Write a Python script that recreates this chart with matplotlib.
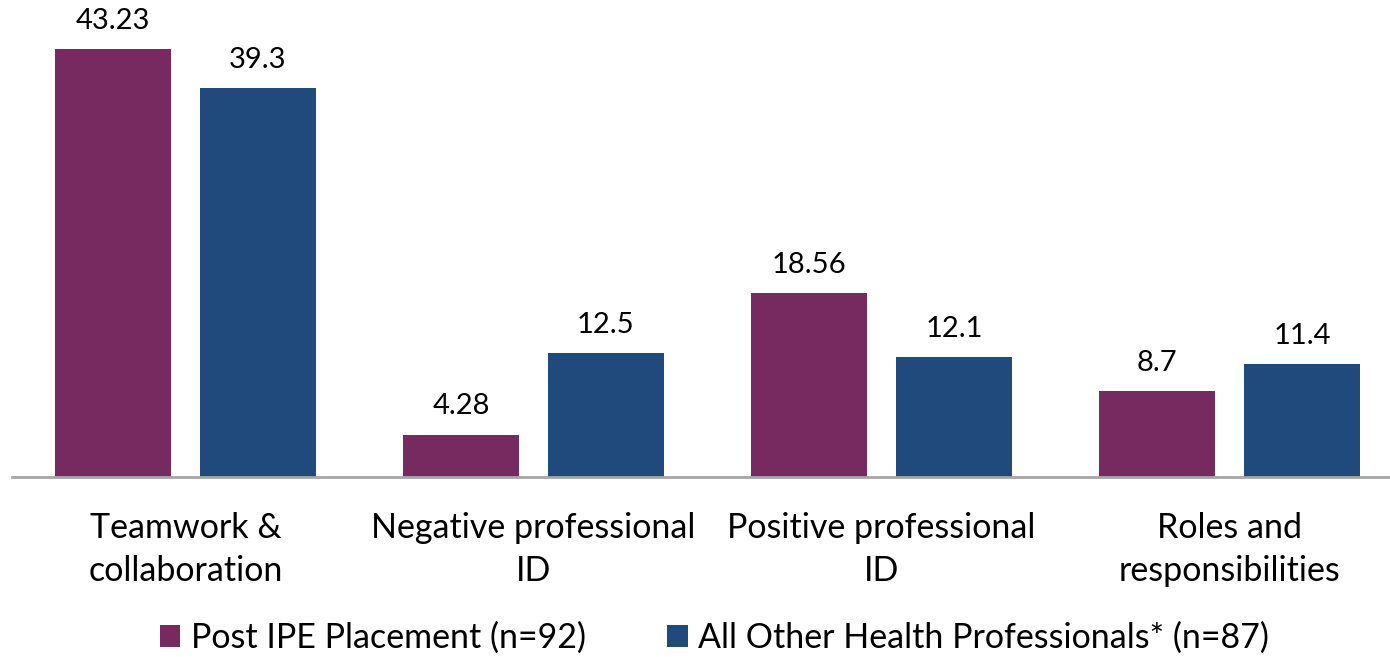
import numpy as np
import matplotlib
matplotlib.use('Agg')
import matplotlib.pyplot as plt

plt.rcParams['font.family'] = ['Lato', 'DejaVu Sans']

# Categories and series values
categories = ['Teamwork &\ncollaboration', 'Negative professional\nID',
              'Positive professional\nID', 'Roles and\nresponsibilities']
postIPE = [43.23, 4.28, 18.56, 8.7]
otherHP = [39.3, 12.5, 12.1, 11.4]
postLabels = ['43.23', '4.28', '18.56', '8.7']
otherLabels = ['39.3', '12.5', '12.1', '11.4']
seriesNames = ['Post IPE Placement (n=92)',
               'All Other Health Professionals* (n=87)']

purple = '#772A60'
blue = '#214A7C'

fig = plt.figure(figsize=(13.9, 6.57), dpi=100)
ax = fig.add_axes([11.5 / 1390, 1 - 477 / 657, 1392 / 1390, 477 / 657])

x = np.arange(len(categories))
w = 0.333
off = 0.208
b1 = ax.bar(x - off, postIPE, w, color=purple, label=seriesNames[0])
b2 = ax.bar(x + off, otherHP, w, color=blue, label=seriesNames[1])

# value labels above each bar
for bars, labels in [(b1, postLabels), (b2, otherLabels)]:
    for rect, lab in zip(bars, labels):
        ax.annotate(lab, (rect.get_x() + rect.get_width() / 2, rect.get_height()),
                    xytext=(0, 11), textcoords='offset points',
                    ha='center', va='bottom', fontsize=21, color='black')

ax.set_xlim(-0.5, 3.5)
ax.set_ylim(0, 48.2)
ax.set_yticks([])
ax.set_xticks(x)
ax.set_xticklabels(categories, fontsize=24.5, linespacing=1.45)
ax.tick_params(axis='x', length=0, pad=25)
for s in ['top', 'right', 'left']:
    ax.spines[s].set_visible(False)
ax.spines['bottom'].set_color('#A6A6A6')
ax.spines['bottom'].set_linewidth(2)

fig.legend(handles=[b1, b2], loc='center', bbox_to_anchor=(0.514, 1 - 638 / 657),
           ncol=2, frameon=False, fontsize=24.5, handlelength=0.6,
           handleheight=0.6, handletextpad=0.3, columnspacing=2.4,
           borderpad=0)

fig.savefig('out.png', dpi=100)
